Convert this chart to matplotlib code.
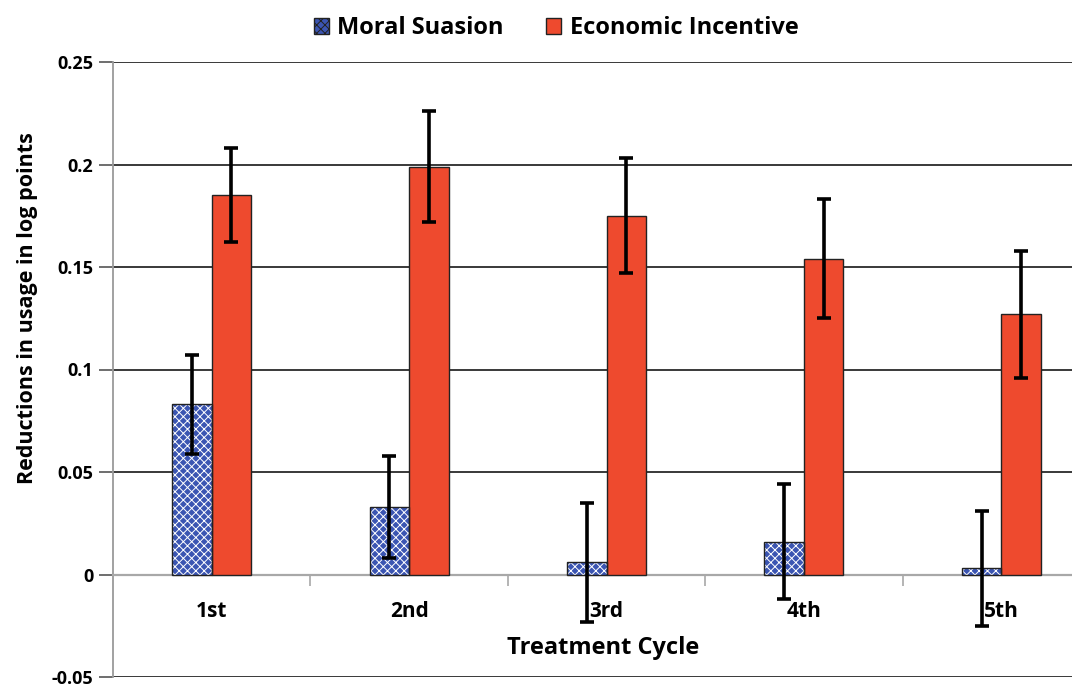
import matplotlib

matplotlib.use("Agg")
import matplotlib.pyplot as plt
import numpy as np
from matplotlib.patches import Patch

cycles = ["1st", "2nd", "3rd", "4th", "5th"]
moral = [0.083, 0.033, 0.006, 0.016, 0.003]
moral_err = [0.024, 0.025, 0.029, 0.028, 0.028]
economic = [0.185, 0.199, 0.175, 0.154, 0.127]
economic_err = [0.023, 0.027, 0.028, 0.029, 0.031]

BLUE = "#3B55B2"
RED = "#EE4A2E"

plt.rcParams["font.family"] = ["Open Sans", "DejaVu Sans"]
plt.rcParams["hatch.linewidth"] = 0.7

fig = plt.figure(figsize=(10.72, 6.87), dpi=100)
ax = fig.add_axes([113 / 1072, 10 / 687, 987 / 1072, 615 / 687])

x = np.arange(len(cycles))
w = 0.2

# moral suasion: blue with white pattern, then a dark outline
ax.bar(x - w / 2, moral, w, color=BLUE, hatch="xxxx", edgecolor="white", linewidth=0, zorder=3)
ax.bar(x - w / 2, moral, w, fill=False, edgecolor="#222222", linewidth=1.0, zorder=3.1)
ax.bar(x + w / 2, economic, w, color=RED, edgecolor="#222222", linewidth=1.0, zorder=3)

err_kw = dict(fmt="none", ecolor="black", elinewidth=2.6, capsize=5, capthick=2.6, zorder=4)
ax.errorbar(x - w / 2, moral, yerr=moral_err, **err_kw)
ax.errorbar(x + w / 2, economic, yerr=economic_err, **err_kw)

ax.set_xlim(-0.5, len(cycles) - 0.5)
ax.set_ylim(-0.05, 0.25)
ax.set_yticks(np.arange(-0.05, 0.2501, 0.05))
ax.set_yticklabels(["-0.05", "0", "0.05", "0.1", "0.15", "0.2", "0.25"], fontsize=13, fontweight="bold")
ax.yaxis.grid(True, color="#2a2a2a", linewidth=1.3)
ax.set_axisbelow(True)

ax.spines["top"].set_visible(False)
ax.spines["right"].set_visible(False)
ax.spines["left"].set_color("#9a9a9a")
ax.spines["left"].set_linewidth(1.3)
ax.spines["bottom"].set_position(("data", 0))
ax.spines["bottom"].set_color("#a8a8a8")
ax.spines["bottom"].set_linewidth(1.6)
ax.spines["bottom"].set_zorder(2.5)

ax.tick_params(axis="y", length=10, width=1.2, color="#555555", pad=4)
ax.set_xticks(x)
ax.set_xticklabels(cycles, fontsize=15, fontweight="bold")
ax.tick_params(axis="x", which="major", length=0, pad=19)
ax.set_xticks(np.arange(0.5, len(cycles) - 0.5, 1.0), minor=True)
ax.tick_params(axis="x", which="minor", length=8, width=1.2, color="#a8a8a8")

# Excel put the y title a little above the plot's middle
fig.text(28 / 1072, 1 - 308 / 687, "Reductions in usage in log points", fontsize=15.5,
         fontweight="bold", rotation=90, ha="center", va="center")
fig.text(603 / 1072, 1 - 648 / 687, "Treatment Cycle", fontsize=17, fontweight="bold",
         ha="center", va="center")

handles = [
    Patch(facecolor=BLUE, hatch="xxxx", edgecolor="#222222", linewidth=1.0),
    Patch(facecolor=RED, edgecolor="#222222", linewidth=1.0),
]
fig.legend(handles, ["Moral Suasion", "Economic Incentive"], loc="center",
           bbox_to_anchor=(556 / 1072, 1 - 28 / 687), ncol=2, frameon=False,
           prop={"size": 17, "weight": "bold"}, handlelength=0.65, handleheight=0.65,
           handletextpad=0.35, columnspacing=1.8)

fig.savefig("out.png", dpi=100)
